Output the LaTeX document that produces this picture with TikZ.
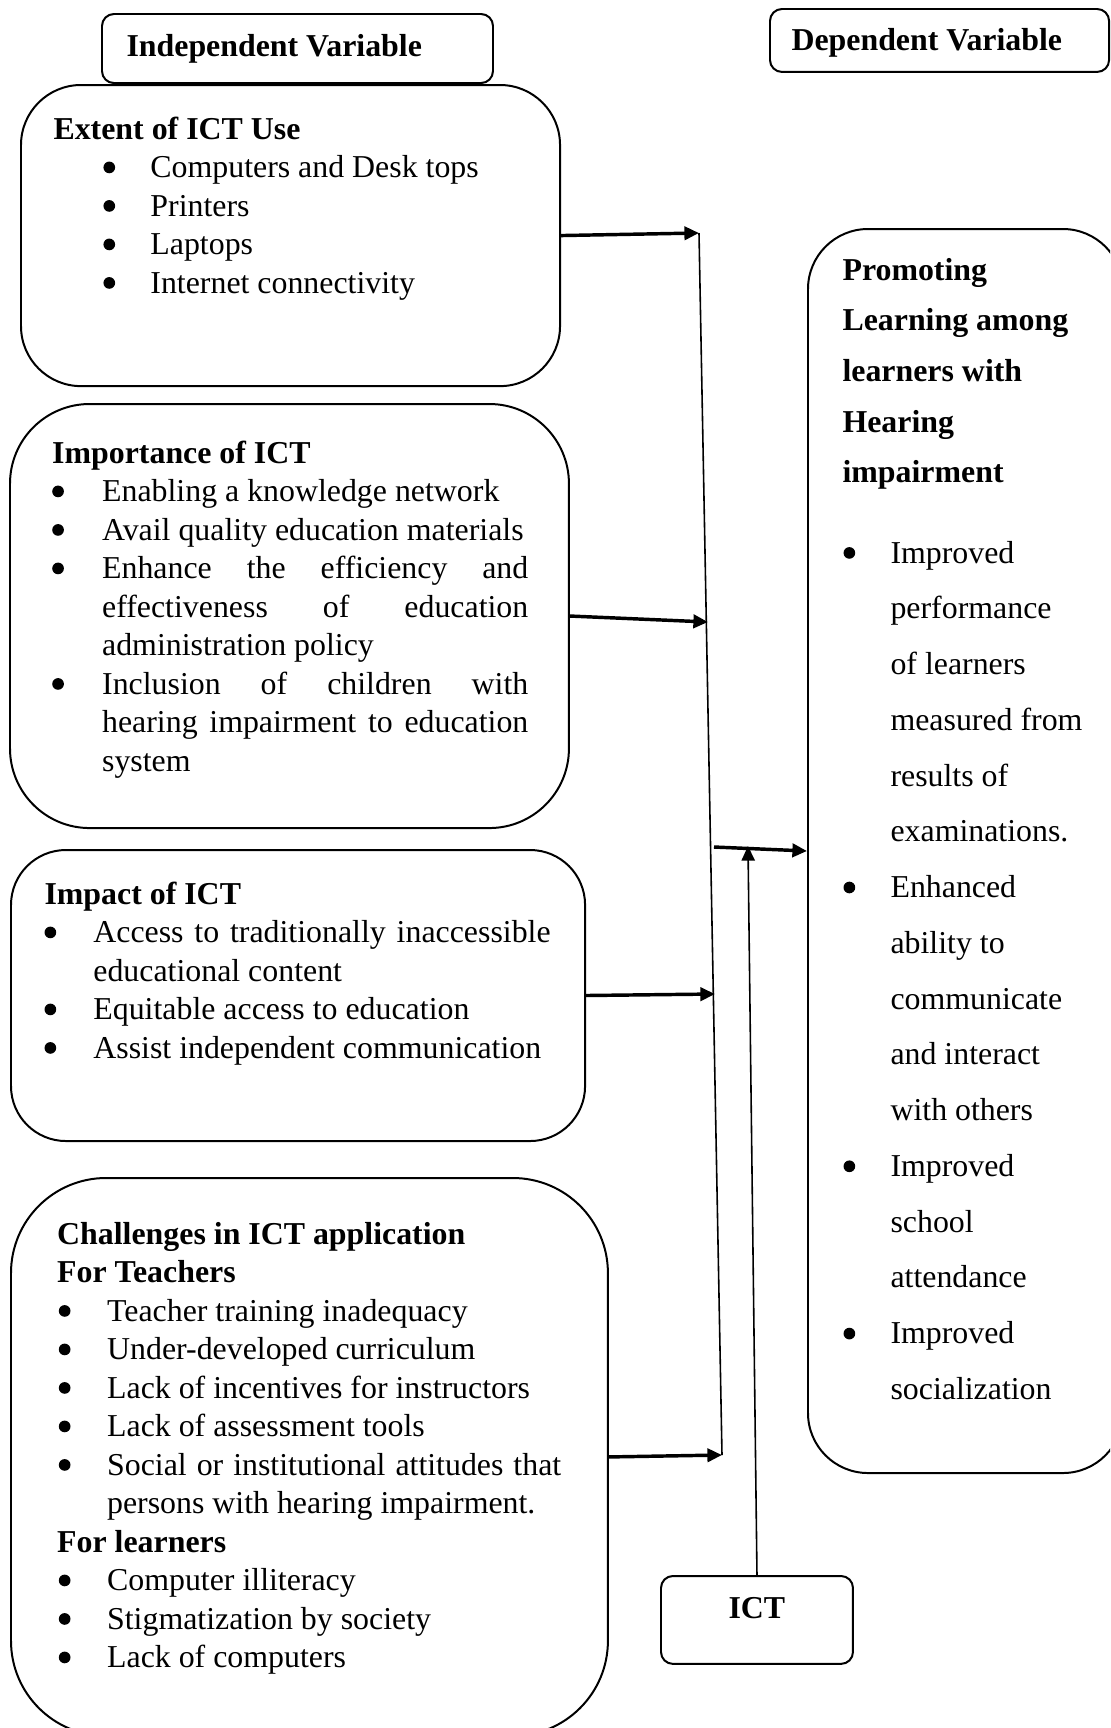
\documentclass[tikz,border=0pt]{standalone}
\usepackage{fontspec}
\setmainfont{Liberation Serif}
\usepackage{tikz}
\usetikzlibrary{arrows.meta}

\newlength\bulx
\newlength\itmx
\newcommand\bul{\tikz[baseline=0pt]\fill (2.2pt,3.8pt) circle (2.2pt);}
\newcommand\itmstart{\hangindent=\itmx\hangafter=1\noindent\makebox[\itmx][l]{\hspace{\bulx}\bul}}
\newcommand\itm{\par\itmstart}

\begin{document}
\begin{tikzpicture}[
  x=0.3766pt, y=-0.3766pt,
  font=\fontsize{12pt}{14.5pt}\selectfont,
  >={Triangle[length=5.5pt, width=5pt]},
  box/.style={draw, line width=0.75pt, inner sep=0pt, anchor=north west},
  txt/.style={anchor=base west, inner sep=0pt, align=justify,
    execute at begin node={\parindent=0pt\parskip=0pt}},
  link/.style={->, line width=1.3pt},
  thin/.style={line width=0.6pt},
]
  \useasboundingbox (0,0) rectangle (1110,1728);
  \clip (0,0) rectangle (1110,1728);

  % boxes
  \node[box, minimum width=147.25pt, minimum height=26pt, rounded corners=4.5pt] (indep) at (101,13) {};
  \node[box, minimum width=127.7pt, minimum height=23.7pt, rounded corners=4.5pt] (depvar) at (769,8) {};
  \node[box, minimum width=203pt, minimum height=113.4pt, rounded corners=22.6pt] (extent) at (20,84) {};
  \node[box, minimum width=210.5pt, minimum height=159.7pt, rounded corners=30pt] (importance) at (9,403) {};
  \node[box, minimum width=216.2pt, minimum height=109.6pt, rounded corners=20.7pt] (impact) at (10,849) {};
  \node[box, minimum width=224.8pt, minimum height=210.1pt, rounded corners=35.8pt] (challenges) at (10,1177) {};
  \node[box, minimum width=118.6pt, minimum height=468.5pt, rounded corners=22.6pt] (dep) at (807,228) {};
  \node[box, minimum width=72.3pt, minimum height=33.1pt, rounded corners=4.5pt] (ict) at (660,1575) {};

  % texts
  \node[txt, text width=140pt] (indep-txt) at (126,56) {\textbf{Independent Variable}};
  \node[txt, text width=120pt] (depvar-txt) at (791,50) {\textbf{Dependent Variable}};
  \node[txt, text width=30pt] (ict-txt) at (728,1618) {\textbf{ICT}};

  \node[txt, text width=170pt] (extent-txt) at (53,139) {\setlength\bulx{18.8pt}\setlength\itmx{36.5pt}%
    \textbf{Extent of ICT Use}
    \itm Computers and Desk tops
    \itm Printers
    \itm Laptops
    \itm Internet connectivity\par};

  \node[txt, text width=179.3pt] (importance-txt) at (51.7,463) {\setlength\bulx{0pt}\setlength\itmx{18.8pt}%
    \textbf{Importance of ICT}
    \itm Enabling a knowledge network
    \itm Avail quality education materials
    \itm Enhance the efficiency and\linebreak effectiveness of education\linebreak administration policy
    \itm Inclusion of children with\linebreak hearing impairment to education\linebreak system\par};

  \node[txt, text width=190.6pt] (impact-txt) at (44,904) {\setlength\bulx{0pt}\setlength\itmx{18.4pt}%
    \textbf{Impact of ICT}
    \itm Access to traditionally inaccessible\linebreak educational content
    \itm Equitable access to education
    \itm Assist independent communication\par};

  \node[txt, text width=189.8pt] (challenges-txt) at (56.7,1244) {\setlength\bulx{0.6pt}\setlength\itmx{18.8pt}%
    \textbf{Challenges in ICT application}\par
    \textbf{For Teachers}
    \itm Teacher training inadequacy
    \itm Under-developed curriculum
    \itm Lack of incentives for instructors
    \itm Lack of assessment tools
    \itm Social or institutional attitudes that\linebreak persons with hearing impairment.\par
    \textbf{For learners}
    \itm Computer illiteracy
    \itm Stigmatization by society
    \itm Lack of computers\par};

  \node[txt, text width=100pt, font=\fontsize{12pt}{19.1pt}\selectfont] (dep-head) at (842,280)
    {\textbf{Promoting\newline Learning among\newline learners with\newline Hearing\newline impairment}};

  \node[txt, text width=100pt, font=\fontsize{12pt}{21pt}\selectfont] (dep-list) at (843,563) {\setlength\bulx{0pt}\setlength\itmx{17.7pt}%
    \itmstart Improved\newline performance\newline of learners\newline measured from\newline results of\newline examinations.
    \itm Enhanced\newline ability to\newline communicate\newline and interact\newline with others
    \itm Improved\newline school\newline attendance
    \itm Improved\newline socialization\par};

  % connectors
  \coordinate (j1) at (699,233);
  \coordinate (j2) at (708,622);
  \coordinate (j3) at (715,994);
  \coordinate (j4) at (722,1455);
  \coordinate (hub) at (714,847);
  \coordinate (tip) at (748,846);

  \draw[thin] (j1) -- (j4);
  \draw[link] (extent.east) -- (j1);
  \draw[link] (importance.east) -- (j2);
  \draw[link] (impact.east) -- (j3);
  \draw[link] (challenges.east) -- (j4);
  \draw[link] (hub) -- (dep.west);
  \draw[thin, ->] (ict.north) -- (tip);
\end{tikzpicture}
\end{document}
